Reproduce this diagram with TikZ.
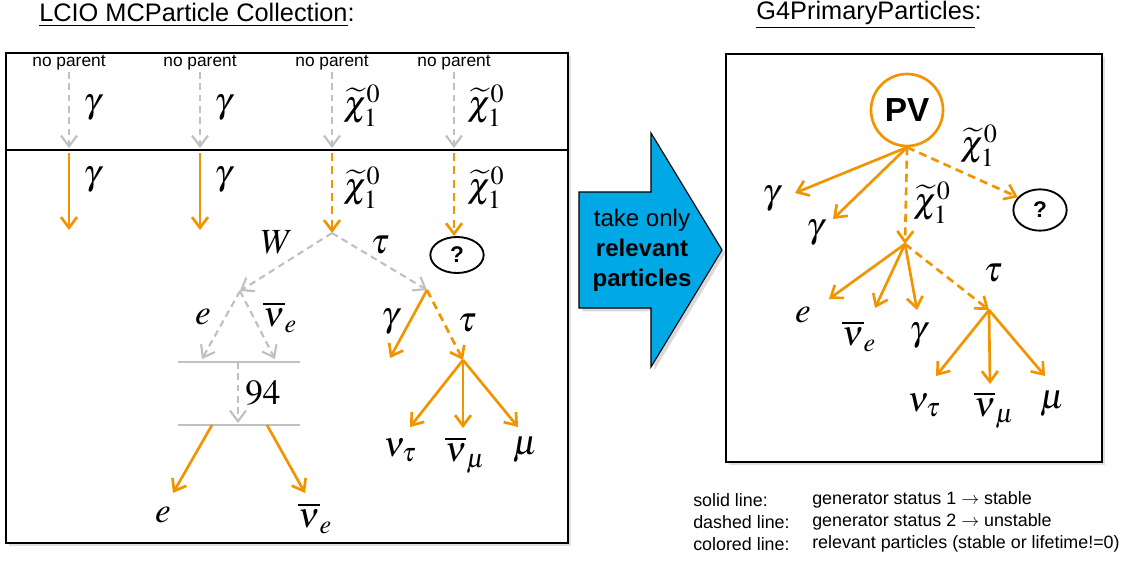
\documentclass[tikz,border=0pt]{standalone}
\usepackage{mathptmx}
\usepackage[no-math]{fontspec}
\setmainfont{Liberation Sans}
\usetikzlibrary{arrows.meta,shapes.geometric,shadows,positioning}

\definecolor{relorange}{RGB}{242,148,0}
\definecolor{irrgray}{RGB}{192,192,192}
\definecolor{arrowblue}{RGB}{0,168,230}

\tikzset{>={Straight Barb[length=8pt,width=12pt]}}
\tikzset{
  % particle lines
  stable/.style={->, draw=relorange, line width=2pt},
  unstable/.style={->, draw=relorange, line width=2pt, dash pattern=on 6pt off 4pt},
  irrel/.style={->, draw=irrgray, line width=1.6pt, dash pattern=on 5pt off 3.5pt},
  genbar/.style={draw=irrgray, line width=2pt},
  % labels
  ptcl/.style={inner sep=0pt, font=\fontsize{26.5}{30}\selectfont},
  nopar/.style={inner sep=1pt, font=\fontsize{13}{15}\selectfont},
  legend/.style={anchor=west, inner sep=0pt, font=\fontsize{13.4}{16}\selectfont},
  heading/.style={inner sep=1pt, font=\fontsize{19}{22}\selectfont},
  qmark/.style={ellipse, draw, line width=1.4pt, inner sep=0pt,
    font=\bfseries\fontsize{17}{19}\selectfont},
  pvnode/.style={circle, draw=relorange, line width=2pt, minimum size=54pt,
    inner sep=0pt, font=\bfseries\fontsize{25}{28}\selectfont},
  panel/.style={draw, line width=1.1pt, fill=white,
    drop shadow={opacity=0.25, shadow xshift=2.5pt, shadow yshift=-2.5pt}}
}

\begin{document}
\begin{tikzpicture}[x=0.75pt, y=-0.75pt]
  \useasboundingbox (0,0) rectangle (1130,561);

  % titles
  \node[heading] (lciotitle) at (197,15) {\underline{LCIO MCParticle Collection}:};
  \node[heading] (gfourtitle) at (869,15) {\underline{G4PrimaryParticles}:};

  % panels
  \path[panel] (6,53) rectangle (568,543);
  \draw[line width=1.1pt] (6,150) -- (568,150);
  \path[panel] (726,54) rectangle (1102,462);

  % ---- LCIO collection ----
  \foreach \cx/\nm in {69/a, 200/b, 332/c, 454/d}{
    \node[nopar] (np\nm) at (\cx,63) {no parent};
    \coordinate (in\nm) at (\cx,148);
    \coordinate (out\nm) at (\cx,153);
    \draw[irrel] (np\nm.south) -- (in\nm);
  }
  \node[ptcl] (gamtopa) at (92,108) {$\gamma$};
  \node[ptcl] (gamtopb) at (223,108) {$\gamma$};
  \node[ptcl] (chitopc) at (362,106) {$\widetilde{\chi}_1^0$};
  \node[ptcl] (chitopd) at (486,106) {$\widetilde{\chi}_1^0$};

  \coordinate (enda) at (69,230);
  \coordinate (endb) at (200,230);
  \coordinate (dec) at (332,233);
  \node[qmark, minimum width=40pt, minimum height=27pt] (qleft) at (457,255) {?};
  \draw[stable] (outa) -- (enda);
  \draw[stable] (outb) -- (endb);
  \draw[unstable] (outc) -- (dec);
  \draw[unstable] (outd) -- (outd |- qleft.north);
  \node[ptcl] (gamloa) at (92,180) {$\gamma$};
  \node[ptcl] (gamlob) at (223,180) {$\gamma$};
  \node[ptcl] (chiloc) at (362,188) {$\widetilde{\chi}_1^0$};
  \node[ptcl] (chilod) at (486,188) {$\widetilde{\chi}_1^0$};

  % W and tau from the neutralino
  \coordinate (wv) at (240,291);
  \coordinate (tv) at (427,290);
  \draw[irrel] (dec) -- (wv);
  \draw[irrel] (dec) -- (tv);
  \node[ptcl] (wlab) at (277,242) {$W$};
  \node[ptcl] (taulab) at (380,245) {$\tau$};

  \coordinate (ein) at (202,359);
  \coordinate (nuin) at (275,359);
  \draw[irrel] (wv) -- (ein);
  \draw[irrel] (wv) -- (nuin);
  \node[ptcl] (elab) at (203,317) {$e$};
  \node[ptcl] (nulab) at (280,317) {$\overline{\nu}_e$};

  % generator steps
  \draw[genbar] (178,362) coordinate (barAw) -- (300,362) coordinate (barAe);
  \draw[genbar] (178,425) coordinate (barBw) -- (300,425) coordinate (barBe);
  \coordinate (genin) at (238,362);
  \coordinate (genout) at (238,423);
  \draw[irrel] (genin) -- (genout);
  \node[ptcl, anchor=west] (ngen) at (245,393) {$94$};

  \coordinate (efs) at (212,425);
  \coordinate (efe) at (173,493);
  \coordinate (nfs) at (267,425);
  \coordinate (nfe) at (305,493);
  \draw[stable] (efs) -- (efe);
  \draw[stable] (nfs) -- (nfe);
  \node[ptcl] (eflab) at (163,515) {$e$};
  \node[ptcl] (nflab) at (315,518) {$\overline{\nu}_e$};

  % tau decay
  \coordinate (gtend) at (390,358);
  \coordinate (tdec) at (463,360);
  \draw[stable] (tv) -- (gtend);
  \draw[unstable] (tv) -- (tdec);
  \node[ptcl] (gtlab) at (390,322) {$\gamma$};
  \node[ptcl] (ttlab) at (467,323) {$\tau$};
  \coordinate (nutau) at (410,427);
  \coordinate (numu) at (463,428);
  \coordinate (mu) at (518,427);
  \draw[stable] (tdec) -- (nutau);
  \draw[stable] (tdec) -- (numu);
  \draw[stable] (tdec) -- (mu);
  \node[ptcl] (nutlab) at (400,450) {$\nu_\tau$};
  \node[ptcl] (numlab) at (465,455) {$\overline{\nu}_\mu$};
  \node[ptcl] (mulab) at (525,450) {$\mu$};

  % ---- arrow in between ----
  \draw[line width=0.8pt, fill=arrowblue,
    drop shadow={opacity=0.3, shadow xshift=2.5pt, shadow yshift=-2.5pt}]
    (579,192) -- (651,192) -- (651,133) -- (722,250) -- (651,367)
    -- (651,308) -- (579,308) -- cycle;
  \node[align=center, font=\fontsize{18}{22.5}\selectfont] (take) at (642,250)
    {take only\\\textbf{relevant}\\\textbf{particles}};

  % ---- G4 primaries ----
  \node[pvnode] (pv) at (907,110) {PV};
  \coordinate (rga) at (795,193);
  \coordinate (rgb) at (833,219);
  \coordinate (chiv) at (905,244);
  \node[qmark, minimum width=40pt, minimum height=31pt] (qright) at (1040,210) {?};
  \draw[stable] (pv.south) -- (rga);
  \draw[stable] (pv.south) -- (rgb);
  \draw[unstable] (pv.south) -- (chiv);
  \draw[unstable] (pv.south) -- (qright.150);
  \node[ptcl] (rgalab) at (771,199) {$\gamma$};
  \node[ptcl] (rgblab) at (815,233) {$\gamma$};
  \node[ptcl] (rchialab) at (932,203) {$\widetilde{\chi}_1^0$};
  \node[ptcl] (rchiblab) at (979,146) {$\widetilde{\chi}_1^0$};

  \coordinate (re) at (829,299);
  \coordinate (rnu) at (875,308);
  \coordinate (rg) at (917,310);
  \coordinate (rtv) at (989,310);
  \draw[stable] (chiv) -- (re);
  \draw[stable] (chiv) -- (rnu);
  \draw[stable] (chiv) -- (rg);
  \draw[unstable] (chiv) -- (rtv);
  \node[ptcl] (relab) at (803,315) {$e$};
  \node[ptcl] (rnulab) at (859,336) {$\overline{\nu}_e$};
  \node[ptcl] (rglab) at (918,336) {$\gamma$};
  \node[ptcl] (rtlab) at (993,273) {$\tau$};

  \coordinate (rnut) at (936,376);
  \coordinate (rnum) at (990,384);
  \coordinate (rmu) at (1045,376);
  \draw[stable] (rtv) -- (rnut);
  \draw[stable] (rtv) -- (rnum);
  \draw[stable] (rtv) -- (rmu);
  \node[ptcl] (rnutlab) at (924,405) {$\nu_\tau$};
  \node[ptcl] (rnumlab) at (994,410) {$\overline{\nu}_\mu$};
  \node[ptcl] (rmulab) at (1052,404) {$\mu$};

  % legend
  \node[legend] (keysolid) at (693,500) {solid line:};
  \node[legend] (keydash) at (693,522) {dashed line:};
  \node[legend] (keycol) at (693,544) {colored line:};
  \node[legend] (valsolid) at (812,500) {generator status 1 $\rightarrow$ stable};
  \node[legend] (valdash) at (812,522) {generator status 2 $\rightarrow$ unstable};
  \node[legend] (valcol) at (812,544) {relevant particles (stable or lifetime!=0)};
\end{tikzpicture}
\end{document}
